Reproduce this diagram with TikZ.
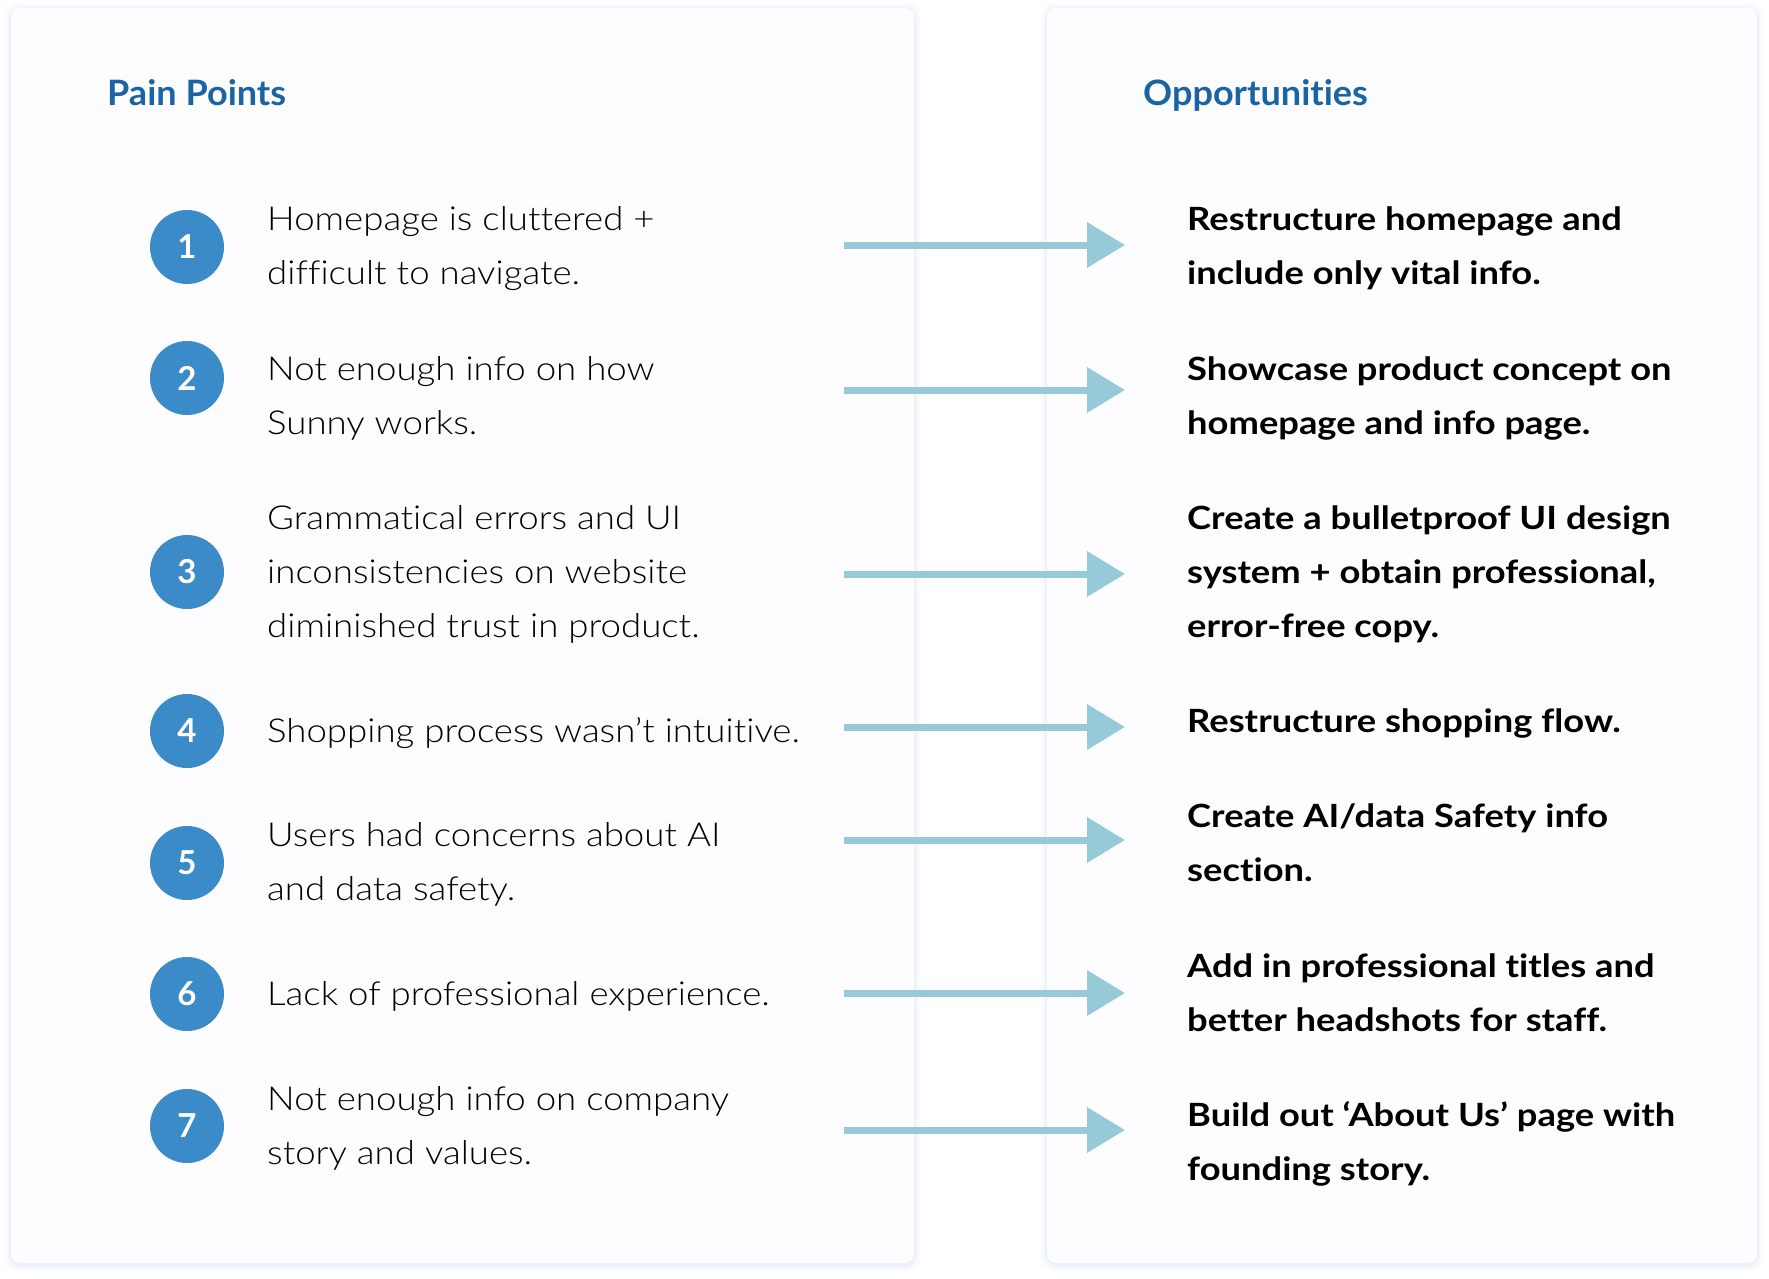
\documentclass[tikz,border=0pt]{standalone}
\usepackage{fontspec}
\defaultfontfeatures{Ligatures={NoCommon,NoContextual,NoRequired},Contextuals=NoAlternate}
\setmainfont{Lato}
\newfontfamily\lightf{Lato Light}[FakeStretch=1.11]
\newfontfamily\boldf{Lato Bold}
\newfontfamily\hdrf{Lato Bold}[FakeStretch=1.03]
\newfontfamily\oppf{Lato Bold}[FakeStretch=1.135]
\definecolor{hdrblue}{HTML}{1B64A3}
\definecolor{circblue}{HTML}{3A8BC8}
\definecolor{arrblue}{HTML}{96CAD9}
\definecolor{panelfill}{HTML}{FDFDFF}
\definecolor{shadowc}{HTML}{E2EDF8}
\usetikzlibrary{arrows.meta}
\begin{document}
\begin{tikzpicture}[x=1pt,y=-1pt,
  panel/.style={fill=panelfill,rounded corners=9pt},
  hdr/.style={anchor=base west,inner sep=0pt,text=hdrblue,font=\hdrf\fontsize{35}{40}\selectfont},
  num/.style={circle,fill=circblue,minimum size=74pt,inner sep=0pt,text=white,font=\boldf\fontsize{33}{36}\selectfont},
  pain/.style={anchor=base west,inner sep=0pt,align=left,font=\lightf\fontsize{33}{54}\selectfont},
  opp/.style={anchor=base west,inner sep=0pt,align=left,font=\oppf\fontsize{32}{54}\selectfont},
  link/.style={arrblue,line width=7pt,-{Triangle[length=38pt,width=44pt]}}
]
\useasboundingbox (0,0) rectangle (1769,1278);
\fill[white] (0,0) rectangle (1769,1278);
% shadows
\foreach \o/\c in {7/8,5/14,3/25,1.5/45}{
  \fill[shadowc,opacity=\c/100,rounded corners=12pt] (11-\o,8-\o+1) rectangle (914+\o,1263+\o+2);
  \fill[shadowc,opacity=\c/100,rounded corners=12pt] (1047-\o,8-\o+1) rectangle (1757+\o,1263+\o+2);
}
\fill[panel] (11,8) rectangle (914,1263);
\fill[panel] (1047,8) rectangle (1757,1263);
\node[hdr] (hp) at (107,105) {Pain Points};
\node[hdr] (ho) at (1143,105) {Opportunities};
% circles
\foreach \i/\y in {1/247,2/378,3/572,4/731,5/863,6/994,7/1126}{
  \node[num] (c\i) at (187,\y) {\i};
}
% pain points (anchor = baseline of last line)
\node[pain] (p1) at (267,284) {Homepage is cluttered +\\difficult to navigate.};
\node[pain] (p2) at (267,434) {Not enough info on how\\Sunny works.};
\node[pain] (p3) at (267,637) {Grammatical errors and UI\\inconsistencies on website\\diminished trust in product.};
\node[pain] (p4) at (267,742) {Shopping process wasn’t intuitive.};
\node[pain] (p5) at (267,900) {Users had concerns about AI\\and data safety.};
\node[pain] (p6) at (267,1005) {Lack of professional experience.};
\node[pain] (p7) at (267,1164) {Not enough info on company\\story and values.};
% opportunities
\node[opp] (o1) at (1187,284) {Restructure homepage and\\include only vital info.};
\node[opp] (o2) at (1187,434) {Showcase product concept on\\homepage and info page.};
\node[opp] (o3) at (1187,637) {Create a bulletproof UI design\\system + obtain professional,\\error-free copy.};
\node[opp] (o4) at (1187,732) {Restructure shopping flow.};
\node[opp] (o5) at (1187,881) {Create AI/data Safety info\\section.};
\node[opp] (o6) at (1187,1031) {Add in professional titles and\\better headshots for staff.};
\node[opp] (o7) at (1187,1180) {Build out ‘About Us’ page with\\founding story.};
% arrows
\foreach \i/\y in {1/245,2/390,3/574,4/727,5/840,6/993,7/1130}{
  \coordinate (a\i) at (844,\y);
  \coordinate (b\i) at (1125,\y);
  \draw[link] (a\i) -- (b\i);
}
\end{tikzpicture}
\end{document}
